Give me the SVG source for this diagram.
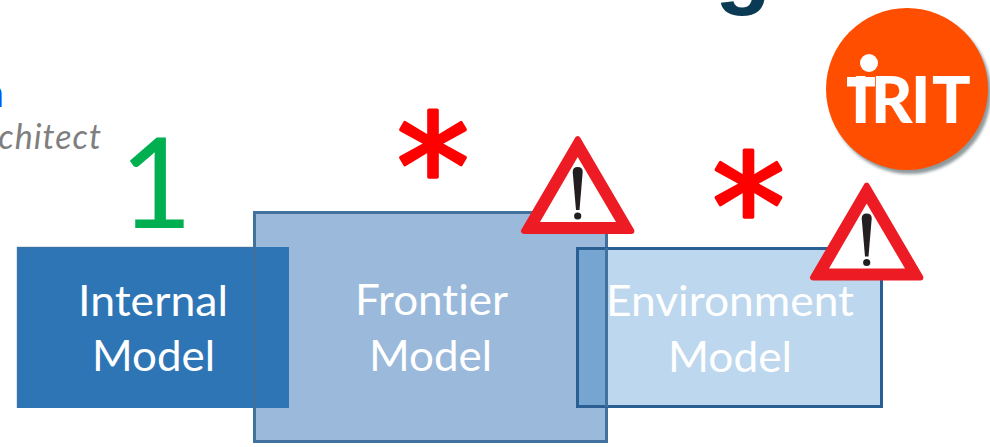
<svg xmlns="http://www.w3.org/2000/svg" width="990" height="447" viewBox="0 0 990 447">
<style>
.lbl{font-family:"Lato","Liberation Sans",sans-serif;font-size:43px;fill:#fff;font-variant-ligatures:none}
.ast{font-family:"DejaVu Sans",sans-serif;font-size:146px;fill:#ff0000;stroke:#ff0000;stroke-width:3.5px;stroke-linejoin:round;text-anchor:middle}
</style>
<defs>
<filter id="blur" x="-10%" y="-10%" width="120%" height="120%"><feGaussianBlur stdDeviation="1.5"/></filter>
<g id="warn">
<polygon points="577.7,139.2 524,231 631.4,231" fill="#ed1c24" stroke="#ed1c24" stroke-width="6" stroke-linejoin="round"/>
<polygon points="577.7,157 540,222 616,222" fill="#fff"/>
<path d="M572.7,172 Q572.7,167 577.7,167 Q582.7,167 582.7,172 L579.5,210 L576,210 Z" fill="#231f20"/>
<circle cx="577.7" cy="216" r="3.6" fill="#231f20"/>
</g>
</defs>
<rect width="990" height="447" fill="#fff"/>
<g id="title-fragment"><text x="743" y="-3" font-family="Liberation Sans, sans-serif" font-weight="700" font-size="92" fill="#0b3a55" text-anchor="middle">g</text></g>
<g id="author-fragment">
<text x="4" y="107" font-family="Lato, sans-serif" font-size="40" fill="#0055ff" text-anchor="end">n</text>
<text x="102" y="149" font-family="Lato, sans-serif" font-style="italic" font-size="34" letter-spacing="1" fill="#7f7f7f" text-anchor="end">rchitect</text>
</g>
<g id="connectors"></g>
<g id="frontier-model">
<rect x="254.5" y="212.5" width="352" height="229" fill="#9ab9db" stroke="#41719c" stroke-width="3"/>
</g>
<g id="internal-model">
<rect x="17" y="247" width="272" height="161" fill="#2e75b6"/>
<path d="M17.5,408 V247.5 H254" fill="none" stroke="#41719c" stroke-width="1.5" opacity=".7"/>
<path d="M254.5,247 V408" stroke="#41719c" stroke-width="3" opacity=".8"/>
<text class="lbl" x="78" y="316" textLength="150" lengthAdjust="spacingAndGlyphs">Internal</text>
<text class="lbl" x="92" y="371" textLength="123" lengthAdjust="spacingAndGlyphs">Model</text>
</g>
<g id="environment-model">
<rect x="577.5" y="248.5" width="304" height="158" fill="#bdd7ee" stroke="#2a5f94" stroke-width="3"/>
<rect x="579" y="250" width="27" height="155" fill="#76a5d2"/>
<path d="M606.5,248 V407" stroke="#41719c" stroke-width="3"/>
<text class="lbl" x="606" y="316" textLength="248" lengthAdjust="spacingAndGlyphs">Environment</text>
<text class="lbl" x="668" y="372" textLength="124" lengthAdjust="spacingAndGlyphs">Model</text>
</g>
<g id="frontier-label">
<text class="lbl" x="355" y="315" textLength="153" lengthAdjust="spacingAndGlyphs">Frontier</text>
<text class="lbl" x="369" y="371" textLength="123" lengthAdjust="spacingAndGlyphs">Model</text>
</g>
<g id="multiplicity-1"><text x="156" y="228" font-family="Lato, sans-serif" font-size="126" fill="#00b050" text-anchor="middle">1</text></g>
<g id="multiplicity-frontier"><text class="ast" x="433" y="219">*</text></g>
<g id="multiplicity-environment"><text class="ast" x="748.5" y="259">*</text></g>
<g id="warning-frontier"><use href="#warn"/></g>
<g id="warning-environment"><use href="#warn" transform="translate(289,46.5)"/></g>
<g id="irit-logo">
<circle cx="910" cy="93" r="81" fill="#8f9a9c" filter="url(#blur)"/>
<circle cx="907" cy="89" r="81" fill="#ff4e00"/>
<circle cx="869" cy="63" r="9" fill="#fff"/>
<rect x="847" y="77" width="28" height="9.5" fill="#fff"/>
<text y="123" font-family="Lato, sans-serif" font-weight="900" font-size="64" fill="#fff"><tspan x="851">I</tspan><tspan x="871">R</tspan><tspan x="911">I</tspan><tspan x="932">T</tspan></text>
</g>
</svg>
